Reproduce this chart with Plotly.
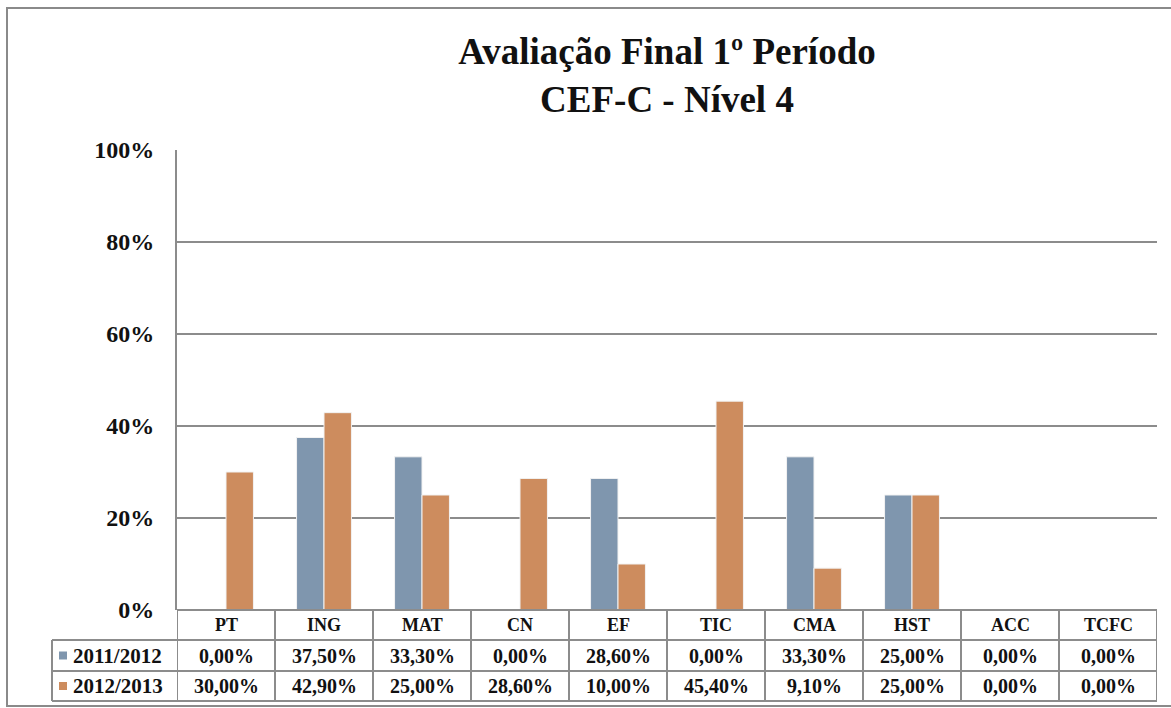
import plotly.graph_objects as go

# ---- data ----
categories = ["PT", "ING", "MAT", "CN", "EF", "TIC", "CMA", "HST", "ACC", "TCFC"]
series_names = ["2011/2012", "2012/2013"]
values_2011 = [0.0, 37.5, 33.3, 0.0, 28.6, 0.0, 33.3, 25.0, 0.0, 0.0]
values_2012 = [30.0, 42.9, 25.0, 28.6, 10.0, 45.4, 9.1, 25.0, 0.0, 0.0]
y_ticks = [0, 20, 40, 60, 80, 100]
title_lines = ["Avaliação Final 1º Período", "CEF-C - Nível 4"]

series_values = [values_2011, values_2012]
colors = ["#7f96ae", "#cd8c5e"]
FONT = "Liberation Serif"
INK = "#111111"
GRID = "#8c8c8c"

W, H = 1171, 708
L, R, T, B = 177, 1157, 150, 610


def px_x(px):
    return (px - L) / (R - L)


def px_y(py):
    return (B - py) / (B - T)


def pct(v):
    return f"{v:.2f}".replace(".", ",") + "%"


fig = go.Figure()
for name, vals, col in zip(series_names, series_values, colors):
    fig.add_trace(go.Bar(
        x=categories, y=vals, name=name,
        marker=dict(color=col, line=dict(color="#f2f2f2", width=1)),
    ))

shapes = []
annotations = []

# outer chart frame
shapes.append(dict(type="rect", xref="paper", yref="paper",
                   x0=px_x(7), x1=px_x(1230), y0=px_y(706), y1=px_y(8),
                   line=dict(color="#8a8a8a", width=2), layer="below"))

# data table under the plot
row_top, row1, row2, row_bot = 610, 640, 671, 701
tline = dict(color=GRID, width=2)
for i in range(len(categories) + 1):
    shapes.append(dict(type="line", xref="x", yref="paper",
                       x0=i - 0.5, x1=i - 0.5, y0=px_y(row_top), y1=px_y(row_bot),
                       line=tline))
shapes.append(dict(type="line", xref="x", yref="paper",
                   x0=-0.5, x1=len(categories) - 0.5, y0=0, y1=0, line=tline))
for yy in (row1, row2, row_bot):
    shapes.append(dict(type="line", xref="paper", yref="paper",
                       x0=px_x(52), x1=1, y0=px_y(yy), y1=px_y(yy), line=tline))
shapes.append(dict(type="line", xref="paper", yref="paper",
                   x0=px_x(52), x1=px_x(52), y0=px_y(row1), y1=px_y(row_bot),
                   line=tline))

head_font = dict(family=FONT, size=18, color=INK, weight="bold")
cell_font = dict(family=FONT, size=20, color=INK, weight="bold")
label_font = dict(family=FONT, size=21, color=INK, weight="bold")
for c in categories:
    annotations.append(dict(x=c, y=px_y((row_top + row1) / 2), xref="x", yref="paper",
                            xanchor="center", yanchor="middle",
                            text=c, showarrow=False, font=head_font))
rows_mid = [(row1 + row2) / 2, (row2 + row_bot) / 2]
for name, vals, col, ym in zip(series_names, series_values, colors, rows_mid):
    for c, v in zip(categories, vals):
        annotations.append(dict(x=c, y=px_y(ym), xref="x", yref="paper",
                                xanchor="center", yanchor="middle",
                                text=pct(v), showarrow=False, font=cell_font))
    annotations.append(dict(x=px_x(71), y=px_y(ym), xref="paper", yref="paper",
                            xanchor="left", yanchor="middle", text=name,
                            showarrow=False, font=label_font))
    shapes.append(dict(type="rect", xref="paper", yref="paper",
                       x0=px_x(59), x1=px_x(67), y0=px_y(ym + 4), y1=px_y(ym - 4),
                       line=dict(width=0), fillcolor=col))

fig.update_layout(
    width=W, height=H,
    margin=dict(l=L, r=W - R, t=T, b=H - B),
    paper_bgcolor="white", plot_bgcolor="white",
    barmode="group", bargap=0.44, bargroupgap=0,
    showlegend=False,
    title=dict(text="<br>".join(title_lines), x=0.5, xref="paper", y=1 - 64 / H,
               yanchor="middle",
               font=dict(family=FONT, size=37, color=INK, weight="bold")),
    xaxis=dict(range=[-0.5, len(categories) - 0.5], showticklabels=False,
               showgrid=False, zeroline=False, showline=False, ticks=""),
    yaxis=dict(range=[0, 100], tickvals=y_ticks, ticktext=[f"{t}%" for t in y_ticks],
               showgrid=True, gridcolor=GRID, gridwidth=2, zeroline=False,
               showline=True, linecolor=GRID, linewidth=2, ticks="",
               ticklabelstandoff=16,
               tickfont=dict(family=FONT, size=24, color=INK, weight="bold")),
    shapes=shapes, annotations=annotations,
)

fig.write_html("out.html")
